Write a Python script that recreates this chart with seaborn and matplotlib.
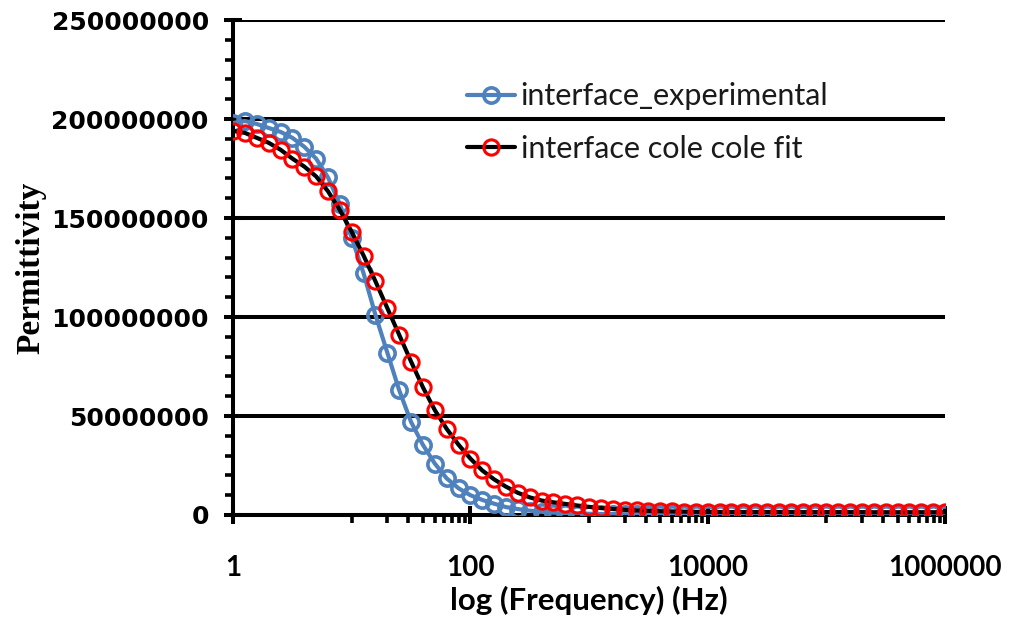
import matplotlib
matplotlib.use("Agg")
import matplotlib.pyplot as plt
import matplotlib.ticker as mticker
import numpy as np
import pandas as pd
import seaborn as sns

# Measurement frequencies (Hz), ten points per decade from 1 Hz to 1 MHz
frequency = [
    1.0, 1.259, 1.585, 1.995, 2.512, 3.162, 3.981, 5.012, 6.310, 7.943,
    10.0, 12.59, 15.85, 19.95, 25.12, 31.62, 39.81, 50.12, 63.10, 79.43,
    100.0, 125.9, 158.5, 199.5, 251.2, 316.2, 398.1, 501.2, 631.0, 794.3,
    1000.0, 1259.0, 1585.0, 1995.0, 2512.0, 3162.0, 3981.0, 5012.0, 6310.0, 7943.0,
    10000.0, 12590.0, 15850.0, 19950.0, 25120.0, 31620.0, 39810.0, 50120.0, 63100.0, 79430.0,
    100000.0, 125900.0, 158500.0, 199500.0, 251200.0, 316200.0, 398100.0, 501200.0, 631000.0, 794300.0,
    1000000.0,
]

# Permittivity, in millions
experimental_M = [
    198.0, 199.0, 197.5, 195.5, 193.5, 190.5, 186.0, 180.0, 170.5, 157.0,
    140.0, 122.0, 101.0, 82.0, 63.0, 47.0, 35.4, 26.0, 18.5, 13.5,
    10.0, 7.6, 5.7, 4.0, 3.0, 2.2, 1.6, 1.2, 0.9, 0.7,
    0.6, 0.5, 0.45, 0.4, 0.4, 0.4, 0.4, 0.35, 0.35, 0.35,
    0.35, 0.35, 0.35, 0.3, 0.3, 0.3, 0.3, 0.3, 0.3, 0.3,
    0.3, 0.3, 0.3, 0.3, 0.3, 0.3, 0.3, 0.3, 0.3, 0.3,
    0.3,
]
cole_cole_fit_M = [
    194.0, 193.0, 190.5, 188.0, 184.5, 180.0, 176.0, 171.0, 163.5, 154.0,
    143.0, 131.0, 118.0, 104.5, 91.0, 77.5, 64.5, 53.0, 43.5, 35.5,
    28.5, 22.5, 18.0, 14.3, 11.2, 8.9, 7.3, 6.4, 5.6, 4.8,
    4.1, 3.5, 3.0, 2.6, 2.3, 2.1, 1.9, 1.8, 1.7, 1.6,
    1.55, 1.5, 1.5, 1.5, 1.5, 1.5, 1.5, 1.5, 1.45, 1.45,
    1.45, 1.45, 1.45, 1.45, 1.4, 1.4, 1.4, 1.4, 1.4, 1.4,
    1.4,
]

series_labels = ["interface_experimental", "interface cole cole fit"]

y_ticks = [0, 50000000, 100000000, 150000000, 200000000, 250000000]
x_ticks = [1, 100, 10000, 1000000]
x_tick_labels = ["1", "100", "10000", "1000000"]
x_minor_ticks = [10, 20, 30, 40, 50, 60, 70, 80, 90,
                 1000, 2000, 3000, 4000, 5000, 6000, 7000, 8000, 9000,
                 100000, 200000, 300000, 400000, 500000, 600000, 700000, 800000, 900000]

df = pd.DataFrame({
    "frequency": frequency * 2,
    "permittivity": [v * 1e6 for v in experimental_M] + [v * 1e6 for v in cole_cole_fit_M],
    "series": [series_labels[0]] * len(frequency) + [series_labels[1]] * len(frequency),
})

sns.set_theme(style="white")
plt.rcParams["font.family"] = ["Lato", "DejaVu Sans"]

fig = plt.figure(figsize=(10.09, 6.21), dpi=100)
ax = fig.add_axes([0.231, 0.1707, 0.7056, 0.797])

blue = "#4F81BD"
sns.lineplot(
    data=df[df["series"] == series_labels[0]], x="frequency", y="permittivity",
    ax=ax, color=blue, linewidth=3.0, marker="o", markersize=11,
    markerfacecolor="none", markeredgecolor=blue, markeredgewidth=2.6,
    label=series_labels[0], zorder=3,
)
sns.lineplot(
    data=df[df["series"] == series_labels[1]], x="frequency", y="permittivity",
    ax=ax, color="black", linewidth=3.0, marker="o", markersize=11,
    markerfacecolor="none", markeredgecolor="#FF0000", markeredgewidth=2.2,
    label=series_labels[1], zorder=4,
)

ax.set_xscale("log")
ax.set_xlim(1, 1000000)
ax.set_ylim(0, 250000000)

ax.xaxis.set_major_locator(mticker.FixedLocator(x_ticks))
ax.xaxis.set_major_formatter(mticker.FixedFormatter(x_tick_labels))
ax.xaxis.set_minor_locator(mticker.FixedLocator(x_minor_ticks))
ax.xaxis.set_minor_formatter(mticker.NullFormatter())
ax.yaxis.set_major_locator(mticker.FixedLocator(y_ticks))
ax.yaxis.set_major_formatter(mticker.FuncFormatter(lambda v, p: f"{v:.0f}"))
ax.yaxis.set_minor_locator(mticker.MultipleLocator(10000000))

ax.grid(axis="y", which="major", color="black", linewidth=2.9)
ax.grid(axis="x", visible=False)
ax.set_axisbelow(True)

for side in ("top", "right"):
    ax.spines[side].set_visible(False)
for side in ("left", "bottom"):
    ax.spines[side].set_color("black")
    ax.spines[side].set_linewidth(2.9)

ax.tick_params(axis="both", which="major", direction="inout", length=13, width=2.9,
               color="black", bottom=True, left=True)
ax.tick_params(axis="both", which="minor", direction="out", length=6, width=2.6,
               color="black", bottom=True, left=True)
ax.tick_params(axis="x", which="major", pad=22)
ax.tick_params(axis="y", which="major", pad=11)

for lab in ax.get_yticklabels():
    lab.set_fontfamily("DejaVu Sans")
    lab.set_fontweight("bold")
    lab.set_fontsize(18)
    lab.set_color("black")
for lab in ax.get_xticklabels():
    lab.set_fontweight("bold")
    lab.set_fontsize(20)
    lab.set_color("black")

ax.set_xlabel("log (Frequency) (Hz)", fontsize=22.5, fontweight="bold", color="black", labelpad=4)
ax.set_ylabel("Permittivity", fontfamily="Liberation Serif", fontsize=24,
              fontweight="bold", color="black")
ax.yaxis.set_label_coords(-0.262, 0.5)

leg = ax.legend(loc="upper left", bbox_to_anchor=(452 / 1009, 1 - 67 / 621),
                bbox_transform=fig.transFigure, frameon=False, borderpad=0,
                fontsize=22, handlelength=1.57, handletextpad=0.18, labelspacing=0.8)
for t in leg.get_texts():
    t.set_color("#1a1a1a")

fig.savefig("out.png", dpi=100)
